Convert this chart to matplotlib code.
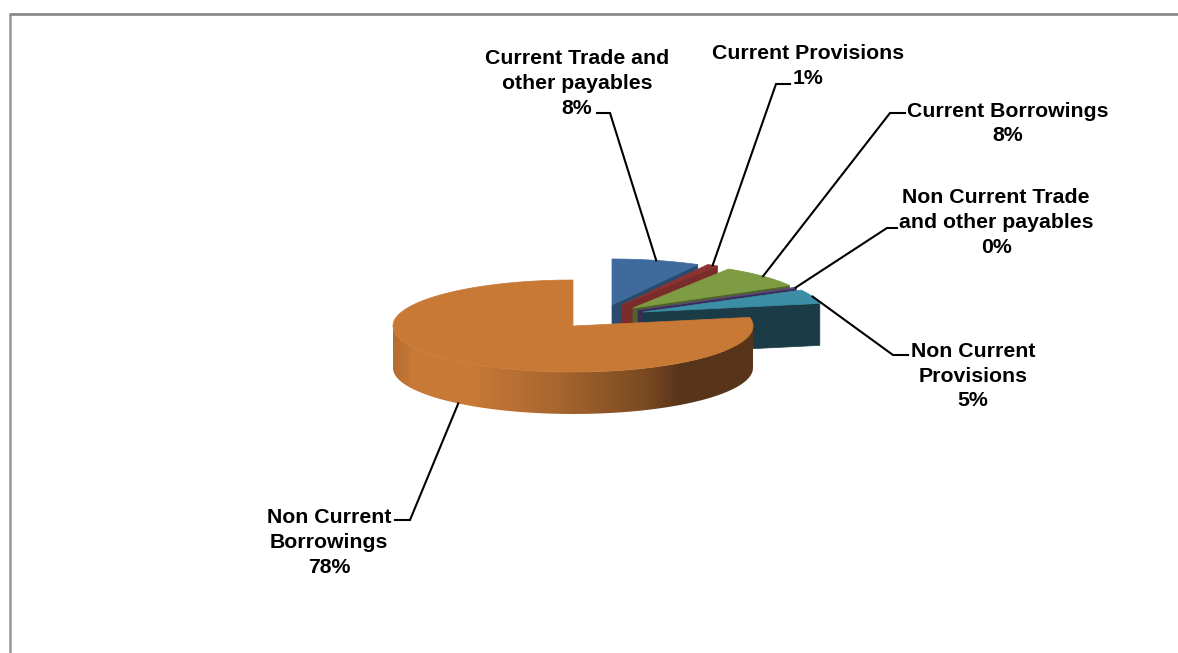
import numpy as np
import matplotlib
matplotlib.use("Agg")
import matplotlib.pyplot as plt
from matplotlib.patches import Polygon, PathPatch
from matplotlib.path import Path
from matplotlib.colors import LinearSegmentedColormap

plt.rcParams['font.family'] = ['Liberation Sans', 'DejaVu Sans']

# Liabilities breakdown, percent of total
categories = ["Current Trade and\nother payables", "Current Provisions",
              "Current Borrowings", "Non Current Trade\nand other payables",
              "Non Current\nProvisions", "Non Current\nBorrowings"]
shares = [7.9, 1.0, 7.9, 0.3, 4.9, 78.0]

# Per-slice styling and layout (top colour, dark side colour, exploded apex,
# label anchor, leader elbow and leader end)
top_colors = ["#3F6A9C", "#8C3331", "#7E9C42", "#5B4780", "#3B8EA6", "#C87935"]
side_colors = ["#2A4A6E", "#7A2C2A", "#4F6428", "#3A2D55", "#1B3C47", "#58341A"]
apexes = [(612, 305), (622, 305), (633, 308), (638, 310), (643, 312), (573, 326)]
label_xy = [(577, 83.5), (808, 66), (1008, 123.5), (996, 222.5), (973, 376), (329, 542.5)]
elbows = [((610, 113), (597, 113)), ((776, 84), (790, 84)), ((890, 113), (905, 113)),
          ((887, 228), (897, 228)), ((893, 355), (908, 355)), ((410, 520), (395, 520))]

RX, RY, DEPTH = 180, 46, 42

fig = plt.figure(figsize=(11.78, 6.53), dpi=100)
ax = fig.add_axes([0, 0, 1, 1])
ax.set_xlim(0, 1178)
ax.set_ylim(653, 0)
ax.axis("off")

# Chart frame
ax.plot([10, 10], [653, 14], color="#9C9C9C", lw=1.9, solid_capstyle="butt")
ax.plot([9, 1178], [14, 14], color="#868686", lw=1.9, solid_capstyle="butt")


def rim(apex, deg):
    """Point on the projected pie rim; deg runs clockwise from twelve o'clock."""
    t = np.radians(deg)
    return np.column_stack((apex[0] + RX * np.sin(t), apex[1] - RY * np.cos(t)))


total = sum(shares)
edges = np.concatenate(([0], np.cumsum(shares))) / total * 360

for i in range(5):
    apex = apexes[i]
    a0, a1 = edges[i], edges[i + 1]
    corner = rim(apex, a1)[0]
    # Cut face along the clockwise edge, then the top of the wedge
    ax.add_patch(Polygon([apex, corner, corner + (0, DEPTH), (apex[0], apex[1] + DEPTH)],
                         closed=True, fc=side_colors[i], ec=side_colors[i], lw=0.5, zorder=2 + i))
    arc = rim(apex, np.linspace(a0, a1, 40))
    ax.add_patch(Polygon(np.vstack(([apex], arc)), closed=True,
                         fc=top_colors[i], ec=top_colors[i], lw=0.5, zorder=2 + i))

# Large slice: curved front wall with a horizontal shading ramp
apex = apexes[5]
a0, a1 = edges[5], edges[6]
front = rim(apex, np.linspace(90, 270, 160))
wall = np.vstack((front, (front + (0, DEPTH))[::-1]))
wall_patch = PathPatch(Path(np.vstack((wall, wall[0]))), fc="none", ec="none", zorder=8)
ax.add_patch(wall_patch)
shade = LinearSegmentedColormap.from_list("wall", [
    (0.00, "#B56D30"), (0.05, "#C87935"), (0.22, "#C87935"),
    (0.45, "#A96630"), (0.70, "#7A4A22"), (0.80, "#58341A"), (1.00, "#58341A")])
img = ax.imshow(np.linspace(0, 1, 360).reshape(1, -1), cmap=shade, aspect="auto",
                extent=(apex[0] - RX, apex[0] + RX, apex[1] + RY + DEPTH, apex[1] - RY),
                zorder=8, vmin=0, vmax=1)
img.set_clip_path(wall_patch)
ax.set_xlim(0, 1178)
ax.set_ylim(653, 0)

arc = rim(apex, np.linspace(a0, a1, 300))
ax.add_patch(Polygon(np.vstack(([apex], arc)), closed=True,
                     fc=top_colors[5], ec=top_colors[5], lw=0.5, zorder=9))

# Leaders and labels
for i, (name, share) in enumerate(zip(categories, shares)):
    mid = (edges[i] + edges[i + 1]) / 2
    start = rim(apexes[i], mid)[0]
    if i == 5:
        start = start + (0, DEPTH)
    elbow, end = elbows[i]
    ax.plot([start[0], elbow[0], end[0]], [start[1], elbow[1], end[1]],
            color="black", lw=1.5, zorder=10, solid_joinstyle="miter")
    ax.text(label_xy[i][0], label_xy[i][1], f"{name}\n{share:.0f}%",
            ha="center", va="center", fontsize=15.3, fontweight="bold",
            linespacing=1.37, color="black", zorder=11)

fig.savefig("out.png", dpi=100)
